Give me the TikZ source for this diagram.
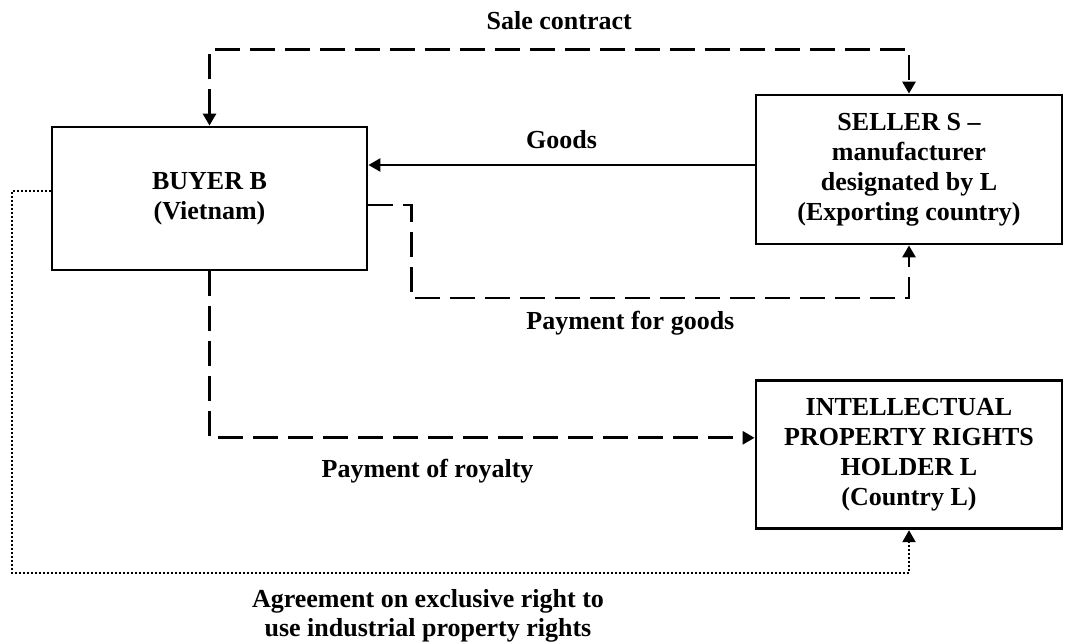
\documentclass[tikz,border=0pt]{standalone}
\usepackage{fontspec}
\setmainfont{Liberation Serif}
\usetikzlibrary{positioning,arrows.meta}

\begin{document}
\begin{tikzpicture}[x=1pt,y=-1pt,
	every node/.style={align=center,
    					font=\fontsize{26}{30}\selectfont\bfseries,
                        inner sep=1pt
                        },
	party/.style= {draw,
    			  line width=2.8pt,
                  minimum width=306pt,
                  minimum height=148pt
    },
	tip/.style={-{Triangle[length=12pt,width=13pt]}},
	bothtips/.style={{Triangle[length=12pt,width=13pt]}-{Triangle[length=12pt,width=13pt]}},
	flow/.style={tip, line width=2.8pt, dash pattern=on 25pt off 10pt},
	goodsflow/.style={tip, line width=2.4pt},
	licence/.style={tip, line width=2.2pt, dash pattern=on 2pt off 2pt}
]
	\useasboundingbox (0,0) rectangle (1065,643);
	\node (buyer) [party, minimum width=315pt, minimum height=143pt] at (209.5,198.5) {BUYER B\\(Vietnam)};
    \node (seller) [party, minimum height=149pt] at (909,169.5) {SELLER S \textendash\\manufacturer\\designated by L\\(Exporting country)};
    \node (holder) [party, below=134pt of seller] {INTELLECTUAL\\PROPERTY RIGHTS\\HOLDER L\\(Country L)};
    \draw[flow, bothtips] (buyer.north) -- ++(0,-76) -| node[pos=0.25, above=17pt] {Sale contract} (seller.north);
    \draw[goodsflow] ([yshift=4.5pt]seller.west) -- node[midway, above=14pt] {Goods} ([yshift=4.5pt]seller.west -| buyer.east);
    \draw[flow] ([yshift=-6.5pt]buyer.east) -- ++(43,0) -- ++(0,93) -| node[pos=0.22, below=11pt] {Payment for goods} (seller.south);
    \draw[flow] (buyer.south) |- node[pos=0.7, below=19pt] {Payment of royalty} ([yshift=17pt]holder.west);
    \draw[licence] ([yshift=7.5pt]buyer.west) -- ++(-39,0) -- ++(0,382) -| node[pos=0.232, below=14pt] {Agreement on exclusive right to\\[-1pt]use industrial property rights} (holder.south);
\end{tikzpicture}
\end{document}
